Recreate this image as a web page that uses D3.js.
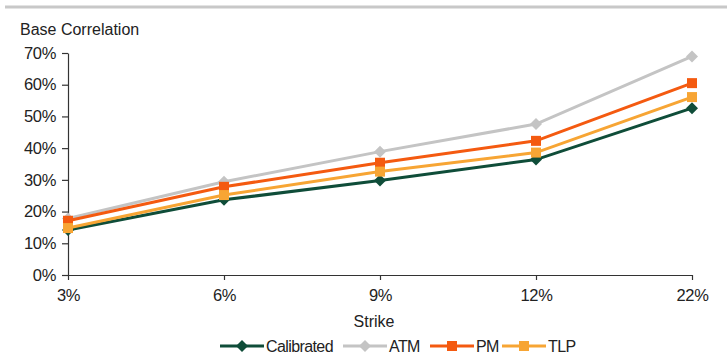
<!DOCTYPE html>
<html><head><meta charset="utf-8">
<script src="https://cdn.jsdelivr.net/npm/d3@7"></script>
<style>body{margin:0;background:#fff;}svg{display:block;font-family:"Liberation Sans",Arial,sans-serif;}</style>
</head><body><svg id="c" width="727" height="354"></svg>
<script>
const strikes = ["3%","6%","9%","12%","22%"];
const calibrated = [14.2, 23.7, 29.8, 36.4, 52.6];
const atm = [17.8, 29.4, 38.9, 47.6, 68.9];
const pm = [17.1, 27.8, 35.4, 42.3, 60.5];
const tlp = [14.8, 25.2, 32.6, 38.6, 56.1];
const yTicks = [0,10,20,30,40,50,60,70];
const series = [
  {name:"Calibrated", values:calibrated, color:"#0f4d39", marker:"diamond"},
  {name:"ATM", values:atm, color:"#c4c4c4", marker:"diamond"},
  {name:"PM", values:pm, color:"#f45a10", marker:"square"},
  {name:"TLP", values:tlp, color:"#f7a534", marker:"square"}
];
const svg = d3.select("#c");
const x = d3.scalePoint().domain(strikes).range([68, 692]);
const y = d3.scaleLinear().domain([0,70]).range([275, 53]);

svg.append("line").attr("x1",5).attr("x2",727).attr("y1",7).attr("y2",7)
  .attr("stroke","#c8c8c8").attr("stroke-width",3);

svg.append("text").attr("x",20).attr("y",35).attr("font-size",16).attr("fill","#222").text("Base Correlation");

const ya = svg.append("g").attr("transform",`translate(68,0)`)
  .call(d3.axisLeft(y).tickValues(yTicks).tickFormat(d=>d+"%").tickSize(6).tickSizeOuter(0).tickPadding(6));
const xa = svg.append("g").attr("transform",`translate(0,275)`)
  .call(d3.axisBottom(x).tickSize(5).tickSizeOuter(0).tickPadding(9));
[ya,xa].forEach(a=>{
  a.selectAll("text").attr("font-size",16.5).attr("fill","#222").attr("font-family","Liberation Sans, Arial, sans-serif").attr("letter-spacing",-0.3);
  a.selectAll("line,path").attr("stroke","#333").attr("stroke-width",1.2);
});
svg.append("text").attr("x",374).attr("y",327).attr("text-anchor","middle")
  .style("font-size","16px").attr("fill","#222").text("Strike");

function marker(g, type, cx, cy, color){
  if(type==="diamond"){
    g.append("path").attr("d",`M${cx},${cy-6}L${cx+6},${cy}L${cx},${cy+6}L${cx-6},${cy}Z`).attr("fill",color);
  } else {
    g.append("rect").attr("x",cx-5).attr("y",cy-5).attr("width",10).attr("height",10).attr("fill",color);
  }
}
const line = d3.line().x((d,i)=>x(strikes[i])).y(d=>y(d));
series.forEach(s=>{
  const g = svg.append("g");
  g.append("path").attr("d",line(s.values)).attr("fill","none").attr("stroke",s.color).attr("stroke-width",3);
  s.values.forEach((v,i)=>marker(g,s.marker,x(strikes[i]),y(v),s.color));
});

// legend
const lg = svg.append("g");
const legX = [220, 343, 430, 502];
series.forEach((s,i)=>{
  const lx = legX[i], ly = 346;
  lg.append("line").attr("x1",lx).attr("x2",lx+44).attr("y1",ly).attr("y2",ly).attr("stroke",s.color).attr("stroke-width",3);
  marker(lg, s.marker, lx+22, ly, s.color);
  lg.append("text").attr("x",lx+46).attr("y",ly+6).attr("font-size",16).attr("letter-spacing",-0.6).attr("fill","#222").text(s.name);
});
</script></body></html>
